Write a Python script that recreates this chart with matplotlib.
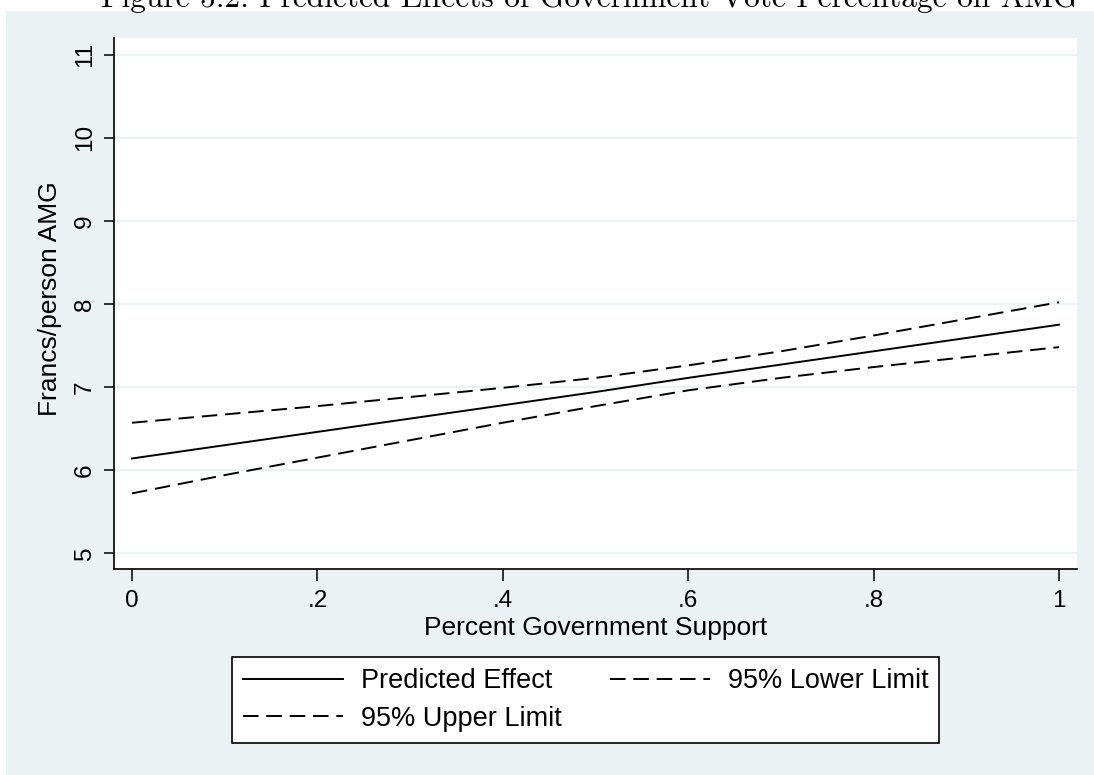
import matplotlib
matplotlib.use('Agg')
import matplotlib.pyplot as plt
import matplotlib.patches as mpatches

# ── Data ───────────────────────────────────────────────────────────────────
support   = [0.0, 0.1, 0.2, 0.3, 0.4, 0.5, 0.6, 0.7, 0.8, 0.9, 1.0]
predicted = [6.14, 6.30, 6.46, 6.62, 6.78, 6.94, 7.11, 7.27, 7.43, 7.59, 7.75]
upper_ci  = [6.57, 6.67, 6.77, 6.88, 6.99, 7.11, 7.26, 7.43, 7.62, 7.82, 8.02]
lower_ci  = [5.72, 5.94, 6.15, 6.36, 6.57, 6.77, 6.96, 7.11, 7.24, 7.36, 7.48]

x_ticks  = [0, 0.2, 0.4, 0.6, 0.8, 1.0]
x_labels = ['0', '.2', '.4', '.6', '.8', '1']
y_ticks  = [5, 6, 7, 8, 9, 10, 11]

TITLE  = 'Figure 5.2: Predicted Effects of Government Vote Percentage on AMG'
XLABEL = 'Percent Government Support'
YLABEL = 'Francs/person AMG'

# ── Style ──────────────────────────────────────────────────────────────────
PANEL_COLOR = '#eaf2f3'
GRID_COLOR  = '#eaf2f3'
FONT = ['Liberation Sans', 'DejaVu Sans']
FS_TICK  = 17.5
FS_LABEL = 19
FS_LEG   = 19.5
DASH = (0, (8, 4))

W, H = 1094, 775
fig = plt.figure(figsize=(W / 100, H / 100), dpi=100)
fig.patch.set_facecolor('white')

# Stata-like outer panel, leaving a white strip at the top for the cut title
panel = mpatches.Rectangle(
    (6 / W, 0), 1 - 6 / W, 1 - 11 / H,
    transform=fig.transFigure, facecolor=PANEL_COLOR, edgecolor='none', zorder=-5,
)
fig.add_artist(panel)

fig.text(589.5 / W, 1 - 7 / H, TITLE, ha='center', va='baseline',
         fontfamily='cmr10', fontsize=22.6, color='black')

ax = fig.add_axes([114 / W, 1 - 569 / H, (1077 - 114) / W, (569 - 38) / H])
ax.set_facecolor('white')

ax.plot(support, predicted, color='black', linewidth=1.4, label='Predicted Effect')
ax.plot(support, upper_ci, color='black', linewidth=1.4, linestyle=DASH,
        label='95% Upper Limit')
ax.plot(support, lower_ci, color='black', linewidth=1.4, linestyle=DASH,
        label='95% Lower Limit')

ax.set_xlim(-0.0194, 1.0194)
ax.set_ylim(4.81, 11.2)
ax.set_xticks(x_ticks)
ax.set_xticklabels(x_labels)
ax.set_yticks(y_ticks)
ax.set_yticklabels([str(v) for v in y_ticks], rotation=90, va='center')

ax.grid(True, axis='y', color=GRID_COLOR, linewidth=1.6, zorder=0)
ax.set_axisbelow(True)

for side in ('top', 'right'):
    ax.spines[side].set_visible(False)
for side in ('left', 'bottom'):
    ax.spines[side].set_linewidth(1.2)
    ax.spines[side].set_color('black')

ax.tick_params(axis='both', direction='out', width=1.1, labelsize=FS_TICK)
ax.tick_params(axis='x', length=8.5, pad=6.8)
ax.tick_params(axis='y', length=7.5, pad=5.5)
for lbl in ax.get_xticklabels() + ax.get_yticklabels():
    lbl.set_fontfamily(FONT)

ax.set_xlabel(XLABEL, fontsize=FS_LABEL, fontfamily=FONT, va='baseline')
ax.xaxis.set_label_coords(595.5 / W, 1 - 635.5 / H, transform=fig.transFigure)
ax.set_ylabel(YLABEL, fontsize=FS_LABEL, fontfamily=FONT, va='center')
ax.yaxis.set_label_coords(50 / W, 1 - 299 / H, transform=fig.transFigure)

leg = ax.legend(
    loc='center left', ncol=2,
    bbox_to_anchor=(232 / W, 1 - 700 / H),
    bbox_transform=fig.transFigure,
    prop={'family': FONT, 'size': FS_LEG},
    handlelength=3.7, handletextpad=0.65, labelspacing=0.42,
    borderpad=0.4, borderaxespad=0, columnspacing=1.8,
    fancybox=False, frameon=True, edgecolor='black', facecolor='white',
    framealpha=1.0,
)
leg.get_frame().set_linewidth(1.2)

fig.savefig('out.png', dpi=100, facecolor=fig.get_facecolor())
